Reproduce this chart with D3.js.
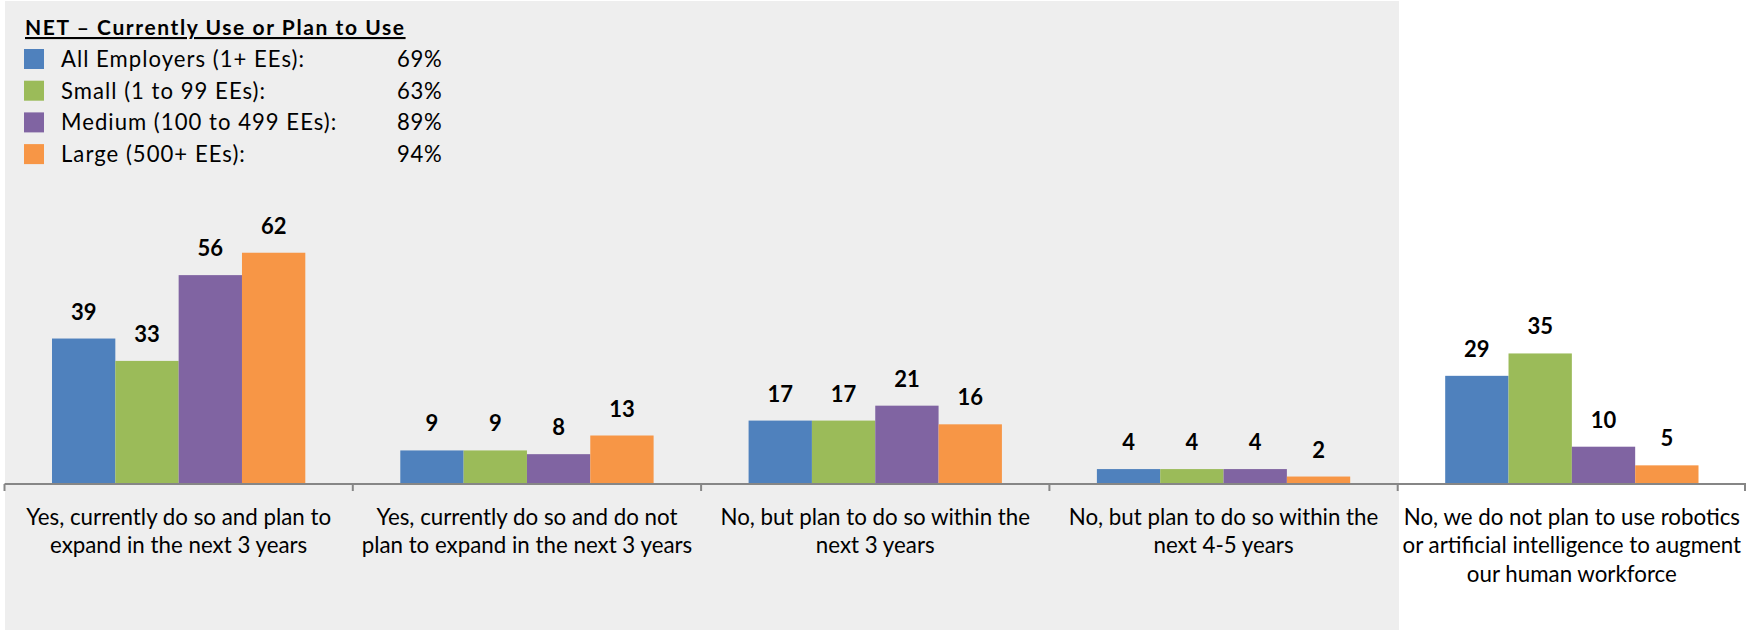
<!DOCTYPE html>
<html><head><meta charset="utf-8">
<script src="https://cdn.jsdelivr.net/npm/d3@7"></script>
<style>
html,body{margin:0;padding:0;background:#fff;}
svg{display:block;}
text{font-family:Lato,"Noto Sans",sans-serif;fill:#000;}
</style></head>
<body>
<svg id="chart" width="1746" height="630"></svg>
<script>
const categories = [
  ["Yes, currently do so and plan to", "expand in the next 3 years"],
  ["Yes, currently do so and do not", "plan to expand in the next 3 years"],
  ["No, but plan to do so within the", "next 3 years"],
  ["No, but plan to do so within the", "next 4-5 years"],
  ["No, we do not plan to use robotics", "or artificial intelligence to augment", "our human workforce"]
];
const seriesNames = ["All Employers (1+ EEs):", "Small (1 to 99 EEs):", "Medium (100 to 499 EEs):", "Large (500+ EEs):"];
const netValues = ["69%", "63%", "89%", "94%"];
const allEmployers = [39, 9, 17, 4, 29];
const small = [33, 9, 17, 4, 35];
const medium = [56, 8, 21, 4, 10];
const large = [62, 13, 16, 2, 5];
const legendTitle = "NET \u2013 Currently Use or Plan to Use";
const colors = ["#4F81BD", "#9BBB59", "#8064A2", "#F79646"];

const series = [allEmployers, small, medium, large];
const svg = d3.select("#chart");

function measure(str, size, weight, spacing) {
  const t = svg.append("text").attr("font-size", size).attr("font-weight", weight || "normal")
    .style("letter-spacing", (spacing || 0) + "px").text(str);
  const w = t.node().getComputedTextLength();
  t.remove();
  return w;
}

svg.append("rect").attr("x", 5).attr("y", 1).attr("width", 1394).attr("height", 629).attr("fill", "#EEEEEE");

const x0 = d3.scaleBand().domain(d3.range(categories.length)).range([4.5, 1746]).paddingInner(0).paddingOuter(0);
const groupW = x0.bandwidth() * 4 / 5.5;
const x1 = d3.scaleBand().domain(d3.range(series.length)).range([0, groupW]).padding(0);
const y = d3.scaleLinear().domain([0, 70]).range([484, 484 - 3.73 * 70]);

const g = svg.append("g");
categories.forEach((c, ci) => {
  const gx = x0(ci) + (x0.bandwidth() - groupW) / 2;
  series.forEach((s, si) => {
    const v = s[ci];
    g.append("rect")
      .attr("x", gx + x1(si))
      .attr("y", y(v))
      .attr("width", x1.bandwidth())
      .attr("height", y(0) - y(v))
      .attr("fill", colors[si]);
    g.append("text")
      .attr("x", gx + x1(si) + x1.bandwidth() / 2)
      .attr("y", y(v) - 19)
      .attr("text-anchor", "middle")
      .attr("font-weight", "bold")
      .attr("font-size", 22)
      .text(v);
  });
});

const axisG = svg.append("g").attr("transform", "translate(0,484)");
axisG.append("line").attr("x1", 4.5).attr("x2", 1746).attr("y1", 0).attr("y2", 0)
  .attr("stroke", "#868686").attr("stroke-width", 2);
const tickPos = d3.range(categories.length + 1).map(i => i < categories.length ? x0(i) : x0(i - 1) + x0.bandwidth());
tickPos.forEach(tp => {
  axisG.append("line").attr("x1", Math.min(tp, 1745)).attr("x2", Math.min(tp, 1745)).attr("y1", 0).attr("y2", 7)
    .attr("stroke", "#868686").attr("stroke-width", 2);
});

const catSize = 20 * 305 / measure(categories[0][0], 20);
categories.forEach((lines, ci) => {
  const t = svg.append("text")
    .attr("text-anchor", "middle")
    .attr("font-size", catSize);
  lines.forEach((ln, li) => {
    t.append("tspan").attr("x", x0(ci) + x0.bandwidth() / 2).attr("y", 524.5 + li * 28.8).text(ln);
  });
});

const titleSize = 21;
const titleSpacing = (379 - measure(legendTitle, titleSize, "bold")) / (legendTitle.length - 1);
svg.append("text").attr("x", 25).attr("y", 35).attr("font-weight", "bold").attr("font-size", titleSize)
  .style("letter-spacing", titleSpacing + "px")
  .attr("text-decoration", "underline").text(legendTitle);
const legSize = catSize * 0.99;
const legSpacing = (243 - measure(seriesNames[0], legSize)) / (seriesNames[0].length - 1);
const pctSpacing = (44.7 - measure(netValues[0], legSize)) / (netValues[0].length - 1);
seriesNames.forEach((name, i) => {
  const ry = 49 + i * 31.7;
  svg.append("rect").attr("x", 24).attr("y", ry).attr("width", 20).attr("height", 20).attr("fill", colors[i]);
  svg.append("text").attr("x", 61).attr("y", ry + 18).attr("font-size", legSize)
    .style("letter-spacing", legSpacing + "px").text(name);
  svg.append("text").attr("x", 397).attr("y", ry + 18).attr("font-size", legSize)
    .style("letter-spacing", pctSpacing + "px").text(netValues[i]);
});
</script>
</body></html>
